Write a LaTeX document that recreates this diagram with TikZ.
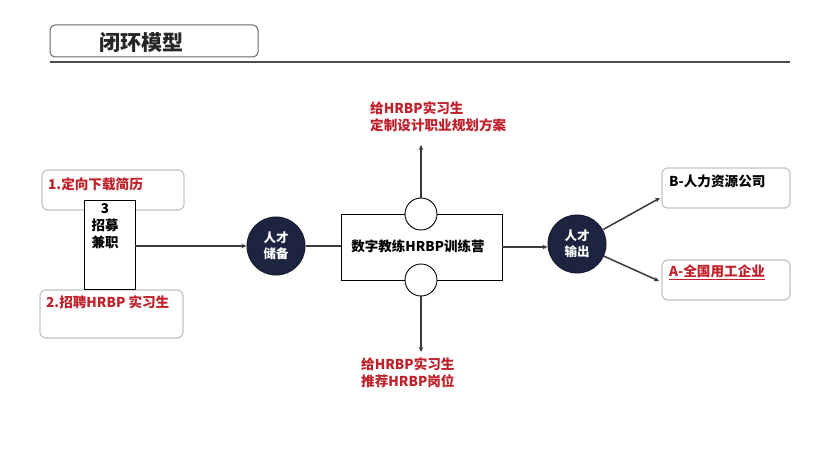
\documentclass[tikz,border=0pt]{standalone}
\usepackage{fontspec}
\setmainfont{Noto Sans CJK SC}
\usetikzlibrary{positioning, calc, arrows.meta}

\begin{document}
\begin{tikzpicture}[x=1pt, y=-1pt,
  caixa/.style={draw=cinza, line width=1.2pt, rounded corners=6pt, minimum width=142pt, minimum height=40pt, fill=white},
  bloco/.style={draw=black, line width=0.8pt, fill=white, minimum width=51pt, minimum height=89pt},
  circulo/.style={circle, fill=marinho, draw=marinho!70!black, line width=1pt, minimum size=58pt, inner sep=0pt},
  furo/.style={circle, fill=white, draw=black, line width=0.9pt, minimum size=32pt, inner sep=0pt},
  rotulo/.style={font=\fontsize{13.6}{17}\selectfont\bfseries, inner sep=0pt, align=left},
  seta/.style={draw=linha, line width=1.5pt, -{Stealth[length=5pt, width=4.5pt]}},
  traco/.style={draw=linha, line width=1.5pt}]
% --- CORES ---
\definecolor{vermelho}{HTML}{C0202A}
\definecolor{marinho}{HTML}{1C2440}
\definecolor{cinza}{HTML}{C4C4C4}
\definecolor{linha}{HTML}{3A3A3A}

\useasboundingbox[fill=white] (0,0) rectangle (840,449);

% LAYER 1: Titulo
\node[draw=gray!80!black, line width=1pt, rounded corners=5pt, minimum width=208pt, minimum height=32pt] (tit) at (154,41) {};
\node[font=\fontsize{21}{24}\selectfont\bfseries, text=black!85, inner sep=0pt] (titTxt) at (141,42) {闭环模型};
\draw[draw=black!70, line width=1.3pt] (50,62) -- (790,62);

% LAYER 2: Entradas
\node[caixa] (b1) at (113,190) {};
\node[rotulo, text=vermelho, anchor=west] (t1) at (48,184) {1.定向下载简历};
\node[caixa, minimum width=143pt, minimum height=48pt] (b2) at (111.5,314) {};
\node[rotulo, text=vermelho, anchor=west] (t2) at (46,302) {2.招聘HRBP 实习生};
\node[bloco] (b3) at (109.5,244.5) {};
\node[rotulo, font=\fontsize{13.5}{17}\selectfont\bfseries, align=center, anchor=north] (t3) at (105,203) {3\\招募\\兼职};

% LAYER 3: Nucleo
\node[circulo, text=white, font=\fontsize{12.5}{16}\selectfont\bfseries, align=center] (c1) at (276,246) {人才\\储备};
\node[draw=black, line width=0.9pt, fill=white, minimum width=161pt, minimum height=66pt] (camp) at (421.5,247) {};
\node[font=\fontsize{13.5}{16}\selectfont\bfseries, inner sep=0pt] (campTxt) at (418,246) {数字教练HRBP训练营};
\node[furo] (fTop) at (421,214) {};
\node[furo] (fBot) at (421,280) {};
\node[circulo, text=white, font=\fontsize{12.5}{16}\selectfont\bfseries, align=center] (c2) at (577,244) {人才\\输出};

% LAYER 4: Saidas
\node[rotulo, text=vermelho, anchor=north west] (tTop) at (370,101) {给HRBP实习生\\定制设计职业规划方案};
\node[rotulo, text=vermelho, anchor=north west] (tBot) at (361,357) {给HRBP实习生\\推荐HRBP岗位};
\node[caixa, minimum width=128pt] (bB) at (726,188) {};
\node[rotulo, anchor=west] (tB) at (669,181) {B-人力资源公司};
\node[caixa, minimum width=128pt] (bA) at (726,280) {};
\node[rotulo, text=vermelho, anchor=west] (tA) at (669,272) {\underline{A-全国用工企业}};

\coordinate (pTop) at (421,145);
\coordinate (pBot) at (421,352);
\coordinate (pB) at (660,198);
\coordinate (pA) at (659,281);

% LAYER 5: Conexoes
\draw[seta] (b3.east |- c1) -- (c1.west);
\draw[traco] (c1.east) -- (camp.west |- c1);
\draw[seta] (fTop.north) -- (pTop);
\draw[seta] (fBot.south) -- (pBot);
\draw[seta] (camp.east) -- (c2.west |- camp);
\draw[seta] (c2) -- (pB);
\draw[seta] (c2) -- (pA);
\end{tikzpicture}
\end{document}
